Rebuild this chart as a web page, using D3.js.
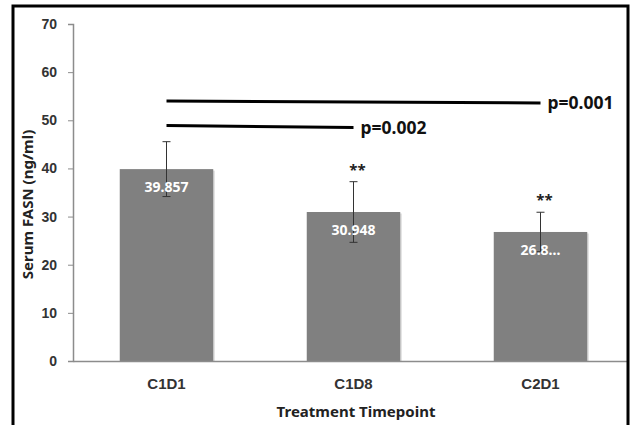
<!DOCTYPE html>
<html>
  <head>
    <meta charset="utf-8"/>
    <script src="https://cdn.jsdelivr.net/npm/d3@7"></script>
    <style>
body { margin: 0; background: #fff; }
svg { font-family: "Noto Sans", "Open Sans", sans-serif; font-weight: bold; }
.axis text { fill: #333; font-size: 14px; }
.axis path, .axis line { stroke: #8c8c8c; }
    </style>
  </head>
  <body>
    <svg width="632" height="425"></svg>
    <script>

// values
var timepoints = ["C1D1", "C1D8", "C2D1"];
var means = [39.857, 30.948, 26.8];
var meanLabels = ["39.857", "30.948", "26.8..."];
var errors = [5.7, 6.3, 4.1];
var stars = ["", "**", "**"];
var yTicks = [0, 10, 20, 30, 40, 50, 60, 70];

// significance brackets: from / to category, heights at each end, label
var sigFrom = ["C1D1", "C1D1"];
var sigTo = ["C1D8", "C2D1"];
var sigY = [[48.9, 48.5], [54.0, 53.6]];
var sigText = ["p=0.002", "p=0.001"];

var data = timepoints.map(function(t, i) {
  return {t: t, v: means[i], e: errors[i], lab: meanLabels[i], star: stars[i]};
});

var m = {left: 73, right: 634, top: 24, bottom: 361};

var svg = d3.select("svg");

var x = d3.scaleBand()
    .domain(timepoints)
    .range([m.left, m.right])
    .paddingInner(0.5)
    .paddingOuter(0.25);

var y = d3.scaleLinear()
    .domain([0, 70])
    .range([m.bottom, m.top]);

svg.append("clipPath").attr("id", "clip")
  .append("rect").attr("x", 0).attr("y", 0).attr("width", 627).attr("height", 425);

var plot = svg.append("g").attr("clip-path", "url(#clip)");

// bars, with a faint shadow on the right edge
plot.selectAll("rect.shadow")
    .data(data)
  .enter().append("rect")
    .attr("class", "shadow")
    .attr("x", function(d) { return x(d.t) + 1.5; })
    .attr("y", function(d) { return y(d.v) + 1.5; })
    .attr("width", x.bandwidth())
    .attr("height", function(d) { return y(0) - y(d.v) - 1.5; })
    .attr("fill", "#dcdcdc");

plot.selectAll("rect.bar")
    .data(data)
  .enter().append("rect")
    .attr("class", "bar")
    .attr("x", function(d) { return x(d.t); })
    .attr("y", function(d) { return y(d.v); })
    .attr("width", x.bandwidth())
    .attr("height", function(d) { return y(0) - y(d.v); })
    .attr("fill", "#808080");

// x axis
var xAxis = plot.append("g")
    .attr("class", "axis")
    .attr("transform", "translate(0," + y(0) + ")")
    .call(d3.axisBottom(x).tickSize(0).tickPadding(17));
xAxis.selectAll("text").style("font-size", "15px").attr("fill", "#222");
xAxis.select(".domain").attr("stroke-width", 1.5);

// y axis
svg.append("g")
    .attr("class", "axis")
    .attr("transform", "translate(" + m.left + ",0)")
    .call(d3.axisLeft(y).tickValues(yTicks).tickSizeOuter(0).tickSize(5).tickPadding(11))
    .select(".domain").attr("stroke-width", 1.5);

// error bars
var cx = function(d) { return x(d.t) + x.bandwidth() / 2; };
var eb = plot.append("g").attr("stroke", "#333").attr("stroke-width", 1);
eb.selectAll("line.v").data(data).enter().append("line")
    .attr("x1", cx).attr("x2", cx)
    .attr("y1", function(d) { return y(d.v + d.e); })
    .attr("y2", function(d) { return y(d.v - d.e); });
eb.selectAll("line.top").data(data).enter().append("line")
    .attr("x1", function(d) { return cx(d) - 4; }).attr("x2", function(d) { return cx(d) + 4; })
    .attr("y1", function(d) { return y(d.v + d.e); })
    .attr("y2", function(d) { return y(d.v + d.e); });
eb.selectAll("line.bot").data(data).enter().append("line")
    .attr("x1", function(d) { return cx(d) - 4; }).attr("x2", function(d) { return cx(d) + 4; })
    .attr("y1", function(d) { return y(d.v - d.e); })
    .attr("y2", function(d) { return y(d.v - d.e); });

// value labels inside the bars
plot.selectAll("text.val")
    .data(data)
  .enter().append("text")
    .attr("class", "val")
    .attr("x", cx)
    .attr("y", function(d) { return y(d.v) + 23; })
    .attr("text-anchor", "middle")
    .attr("fill", "#fff")
    .style("font-size", "14px")
    .text(function(d) { return d.lab; });

// asterisks
plot.selectAll("text.star")
    .data(data)
  .enter().append("text")
    .attr("x", function(d) { return cx(d) + 4; })
    .attr("y", function(d) { return y(d.v + d.e) - 7; })
    .attr("text-anchor", "middle")
    .attr("fill", "#222")
    .style("font-size", "15px")
    .text(function(d) { return d.star; });

// significance lines
sigText.forEach(function(txt, i) {
  var x1 = x(sigFrom[i]) + x.bandwidth() / 2,
      x2 = x(sigTo[i]) + x.bandwidth() / 2;
  plot.append("line")
      .attr("x1", x1).attr("x2", x2)
      .attr("y1", y(sigY[i][0])).attr("y2", y(sigY[i][1]))
      .attr("stroke", "#000").attr("stroke-width", 3);
  plot.append("text")
      .attr("x", x2 + 7)
      .attr("y", y(sigY[i][1]) + 6)
      .attr("fill", "#111")
      .style("font-size", "17.5px")
      .text(txt);
});

// axis titles
svg.append("text")
    .attr("transform", "translate(33," + ((m.top + m.bottom) / 2 + 12) + ") rotate(-90)")
    .attr("text-anchor", "middle")
    .attr("fill", "#222")
    .style("font-size", "15px")
    .text("Serum FASN (ng/ml)");

svg.append("text")
    .attr("x", 356)
    .attr("y", 417)
    .attr("text-anchor", "middle")
    .attr("fill", "#222")
    .style("font-size", "15px")
    .text("Treatment Timepoint");

// outer frame (bottom edge runs off the picture)
svg.append("path")
    .attr("d", "M13,440V6H628V440")
    .attr("fill", "none")
    .attr("stroke", "#000")
    .attr("stroke-width", 3);

    </script>
  </body>
</html>
